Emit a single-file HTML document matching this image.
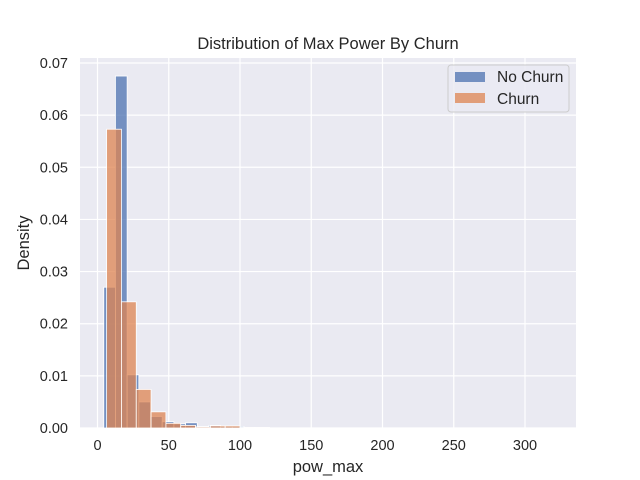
<!DOCTYPE html>
<html><head><meta charset="utf-8"><style>body{margin:0;background:#fff}svg{display:block;font-family:"Liberation Sans","DejaVu Sans",sans-serif}</style></head>
<body>
<svg id="chart" width="640" height="480">
<rect x="80" y="58" width="496" height="370" fill="#eaeaf2"/>
<g id="grid"></g><g id="bars"></g><g id="ticks"></g>
<text x="328" y="49" text-anchor="middle" font-size="16.5" fill="#262626">Distribution of Max Power By Churn</text>
<text x="328" y="472" text-anchor="middle" font-size="16.5" fill="#262626">pow_max</text>
<text transform="translate(29,243) rotate(-90)" text-anchor="middle" font-size="16.5" fill="#262626">Density</text>
<g>
<rect x="448" y="65" width="121" height="47" rx="3" fill="#eaeaf2" fill-opacity="0.8" stroke="#ccc"/>
<rect x="455" y="72" width="30" height="10" fill="#4c72b0" fill-opacity="0.75"/>
<text x="497" y="82" font-size="15.5" fill="#262626">No Churn</text>
<rect x="455" y="93" width="30" height="10" fill="#dd8452" fill-opacity="0.75"/>
<text x="497" y="104" font-size="15.5" fill="#262626">Churn</text>
</g>
</svg>
<script>
const xTicks=[0,50,100,150,200,250,300];
const yTicks=[0,0.01,0.02,0.03,0.04,0.05,0.06,0.07];
const blueStart=4.4, blueWidth=8.2;
const blueValues=[0.027,0.0675,0.0102,0.005,0.0022,0.0012,0.0008,0.001,0.0003,0.0005,0.0003,0.0003,0.0001,0.0001];
const orangeStart=6.4, orangeWidth=10.4;
const orangeValues=[0.0573,0.0242,0.0074,0.0031,0.0009,0.0005,0.0002,0.0004,0.0004,0.0001,0.0001];
const L=80,R=576,T=58,B=428;
const xs=v=>97.5+v*(525-97.5)/300;
const ys=v=>B-v*(B-63)/0.07;
const NS="http://www.w3.org/2000/svg";
function mk(tag,attrs,parent){const e=document.createElementNS(NS,tag);for(const k in attrs)e.setAttribute(k,attrs[k]);parent.appendChild(e);return e;}
const grid=document.getElementById('grid'),bars=document.getElementById('bars'),ticks=document.getElementById('ticks');
xTicks.forEach(t=>{const x=xs(t);
 const g=mk('line',{x1:x,x2:x,y1:T,y2:B,stroke:'#fff','stroke-width':1.2},grid);
 
 
 const l=mk('text',{x:x,y:450,'text-anchor':'middle','font-size':14.5,fill:'#262626'},ticks);l.textContent=t;
 
 });
yTicks.forEach(t=>{const y=ys(t);
 const g=mk('line',{x1:L,x2:R,y1:y,y2:y,stroke:'#fff','stroke-width':1.2},grid);
 
 
 const l=mk('text',{x:68,y:y+5,'text-anchor':'end','font-size':14.5,fill:'#262626'},ticks);l.textContent=t===0?'0.00':t.toFixed(2);
 
 });
function series(vals,start,w,color,name){vals.forEach((v,i)=>{const x0=xs(start+i*w),x1=xs(start+(i+1)*w);
 const r=mk('rect',{x:x0,y:ys(v),width:x1-x0,height:B-ys(v),fill:color,'fill-opacity':0.75,stroke:'#fff','stroke-width':0.8},bars);
 
 });}
series(blueValues,blueStart,blueWidth,'#4c72b0','bar-no-churn');
series(orangeValues,orangeStart,orangeWidth,'#dd8452','bar-churn');
</script>
</body></html>
